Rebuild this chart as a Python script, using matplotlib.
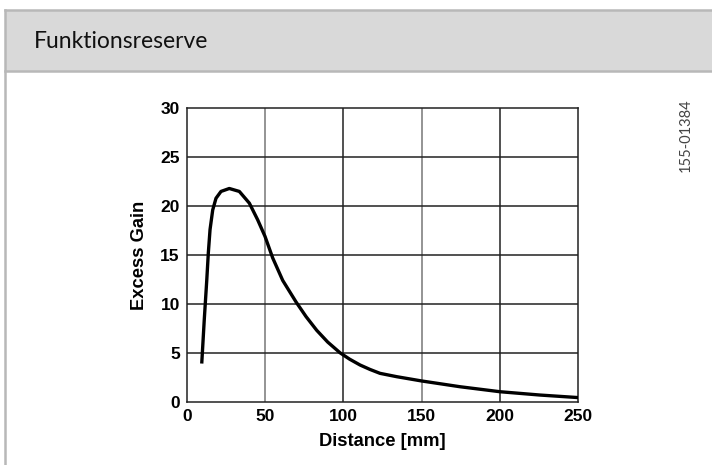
import matplotlib
matplotlib.use("Agg")
import matplotlib.pyplot as plt
from matplotlib.patches import Rectangle
from matplotlib.lines import Line2D

# kurve gelesen aus dem bild
distance = [9.6, 11.2, 12.8, 13.8, 14.9, 16.6, 18.7, 21.9, 27.2, 33.6, 40.0, 45.3,
            50.0, 54.9, 61.3, 69.8, 76.2, 83.0, 90.0, 97.9, 104.0, 110.7, 117.0,
            123.4, 134.0, 150.0, 174.5, 200.0, 225.6, 250.0]
gain = [3.9, 8.35, 12.4, 15.2, 17.6, 19.6, 20.8, 21.5, 21.8, 21.5, 20.3, 18.6,
        16.9, 14.7, 12.4, 10.2, 8.7, 7.3, 6.1, 5.0, 4.35, 3.75, 3.3,
        2.9, 2.56, 2.12, 1.53, 1.02, 0.68, 0.42]

xticks = [0, 50, 100, 150, 200, 250]
yticks = [0, 5, 10, 15, 20, 25, 30]

fig = plt.figure(figsize=(7.12, 4.65), dpi=100)
W, H = 712, 465

# kopfzeile
fig.patches.append(Rectangle((5 / W, 1 - 71 / H), 1, 60 / H, transform=fig.transFigure,
                             facecolor="#d9d9d9", edgecolor="none", zorder=0))
for y in [10, 71]:
    fig.add_artist(Line2D([5 / W, 1], [1 - y / H, 1 - y / H], transform=fig.transFigure,
                          color="#b8b8b8", lw=1.8))
fig.add_artist(Line2D([5 / W, 5 / W], [0, 1 - 10 / H], transform=fig.transFigure,
                      color="#b8b8b8", lw=1.8))
fig.text(34 / W, 1 - 42 / H, "Funktionsreserve", fontsize=16.5, family="Lato",
         va="center", ha="left", color="#111111")
fig.text(686 / W, 1 - 135 / H, "155-01384", fontsize=10.5, family="Lato", rotation=90,
         va="center", ha="center", color="#444444")

ax = fig.add_axes([186.7 / W, 1 - 401.7 / H, 391.6 / W, 293.4 / H])
ax.plot(distance, gain, color="black", lw=2.4, solid_capstyle="butt",
        solid_joinstyle="round", zorder=3)
ax.set_xlim(0, 250)
ax.set_ylim(0, 30)
ax.set_xticks(xticks)
ax.set_yticks(yticks)
for x in xticks[1:-1]:
    ax.axvline(x, color="#777777" if x in (50, 150) else "#222222", lw=1.1, zorder=1)
for y in yticks[1:-1]:
    ax.axhline(y, color="#222222", lw=1.1, zorder=1)
for s in ax.spines.values():
    s.set_linewidth(1.1)
    s.set_color("#222222")
ax.tick_params(length=0, pad=5, labelsize=12.5)
for lab in ax.get_xticklabels() + ax.get_yticklabels():
    lab.set_fontweight("bold")
    lab.set_family("Liberation Sans")
ax.set_xlabel("Distance [mm]", fontsize=13.2, fontweight="bold", family="Liberation Sans",
              labelpad=7)
ax.set_ylabel("Excess Gain", fontsize=13.2, fontweight="bold", family="Liberation Sans",
              labelpad=9)

fig.savefig("out.png", dpi=100)
